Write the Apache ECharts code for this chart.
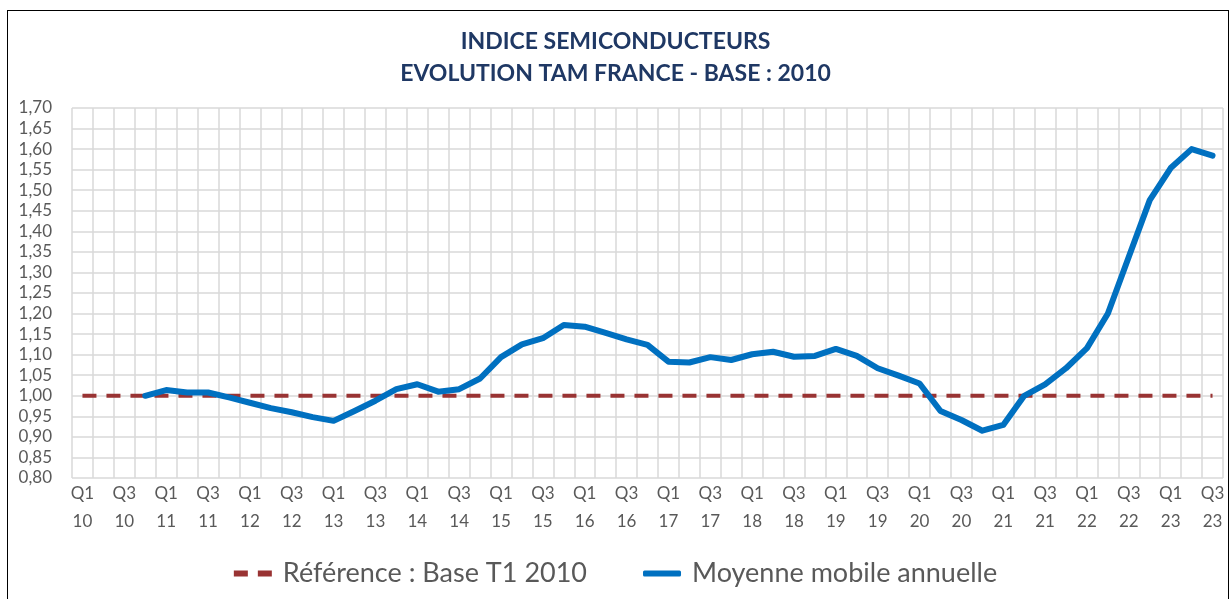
<!DOCTYPE html>
<html lang="fr">
<head>
  <meta charset="UTF-8">
  <title>Indice semiconducteurs</title>
  <style>
    html, body { margin: 0; padding: 0; background: #fff; }
    #frame { position: absolute; left: 7px; top: 10px; width: 1222px; height: 600px; border: 1.5px solid #000; box-sizing: border-box; }
    #chart { position: absolute; left: 0; top: 0; width: 1231px; height: 599px; }
  </style>
  <script src="https://cdn.jsdelivr.net/npm/echarts@6.0.0/dist/echarts.min.js"></script>
</head>
<body>
  <div id="frame"></div>
  <div id="chart"></div>
  <script>
    // trimestres Q1 2010 -> Q3 2023
    const years = ['10','11','12','13','14','15','16','17','18','19','20','21','22','23'];
    const quarters = [];
    years.forEach(function(y) {
      ['Q1','Q2','Q3','Q4'].forEach(function(q) {
        if (y === '23' && q === 'Q4') return;
        quarters.push(q + '\n' + y);
      });
    });

    const reference = quarters.map(function() { return 1.00; });

    const movingAvg = [
      null, null, null, 1.000,          // 2010
      1.014, 1.008, 1.008, 0.996,       // 2011
      0.983, 0.970, 0.960, 0.948,       // 2012
      0.939, 0.963, 0.988, 1.016,       // 2013
      1.028, 1.010, 1.016, 1.042,       // 2014
      1.094, 1.125, 1.140, 1.172,       // 2015
      1.168, 1.153, 1.137, 1.124,       // 2016
      1.083, 1.081, 1.094, 1.087,       // 2017
      1.101, 1.107, 1.095, 1.097,       // 2018
      1.114, 1.097, 1.067, 1.049,       // 2019
      1.030, 0.963, 0.941, 0.915,       // 2020
      0.929, 1.000, 1.028, 1.067,       // 2021
      1.116, 1.200, 1.338, 1.476,       // 2022
      1.554, 1.600, 1.584               // 2023
    ];

    const font = 'Lato, "Open Sans", sans-serif';
    const chart = echarts.init(document.getElementById('chart'));
    chart.setOption({
      animation: false,
      title: {
        text: 'INDICE SEMICONDUCTEURS\nEVOLUTION TAM FRANCE - BASE : 2010',
        left: 'center',
        top: 21,
        textStyle: { fontFamily: font, fontSize: 23, fontWeight: 'bold', color: '#1F3864', lineHeight: 32 }
      },
      grid: { left: 72, right: 8, top: 108, bottom: 121 },
      legend: {
        bottom: 7,
        left: 'center',
        itemGap: 56,
        itemWidth: 38,
        itemHeight: 6,
        textStyle: { fontFamily: font, fontSize: 27, color: '#595959', padding: [0, 0, 0, 6] },
        data: [
          { name: 'Référence : Base T1 2010', icon: 'path://M0,0h14v6h-14z M24,0h14v6h-14z' },
          { name: 'Moyenne mobile annuelle', icon: 'roundRect' }
        ]
      },
      xAxis: {
        type: 'category',
        data: quarters,
        boundaryGap: true,
        axisLine: { show: false },
        axisTick: { show: false },
        axisLabel: { interval: 1, fontFamily: font, fontSize: 17, color: '#595959', lineHeight: 28, margin: 2 },
        splitLine: { show: true, interval: 0, lineStyle: { color: '#d9d9d9', width: 1.5 } }
      },
      yAxis: {
        type: 'value',
        min: 0.80,
        max: 1.70,
        interval: 0.05,
        axisLine: { show: false },
        axisTick: { show: false },
        axisLabel: {
          fontFamily: font, fontSize: 17, color: '#595959', margin: 20,
          formatter: function(v) { return v.toFixed(2).replace('.', ','); }
        },
        splitLine: { lineStyle: { color: '#d9d9d9', width: 1.5 } }
      },
      series: [
        {
          name: 'Référence : Base T1 2010',
          type: 'line',
          data: reference,
          showSymbol: false,
          lineStyle: { color: '#993333', width: 4, type: [14, 10] },
          itemStyle: { color: '#993333' }
        },
        {
          name: 'Moyenne mobile annuelle',
          type: 'line',
          data: movingAvg,
          showSymbol: false,
          lineStyle: { color: '#0070C0', width: 6, cap: 'round', join: 'round' },
          itemStyle: { color: '#0070C0' }
        }
      ]
    });
  </script>
</body>
</html>
